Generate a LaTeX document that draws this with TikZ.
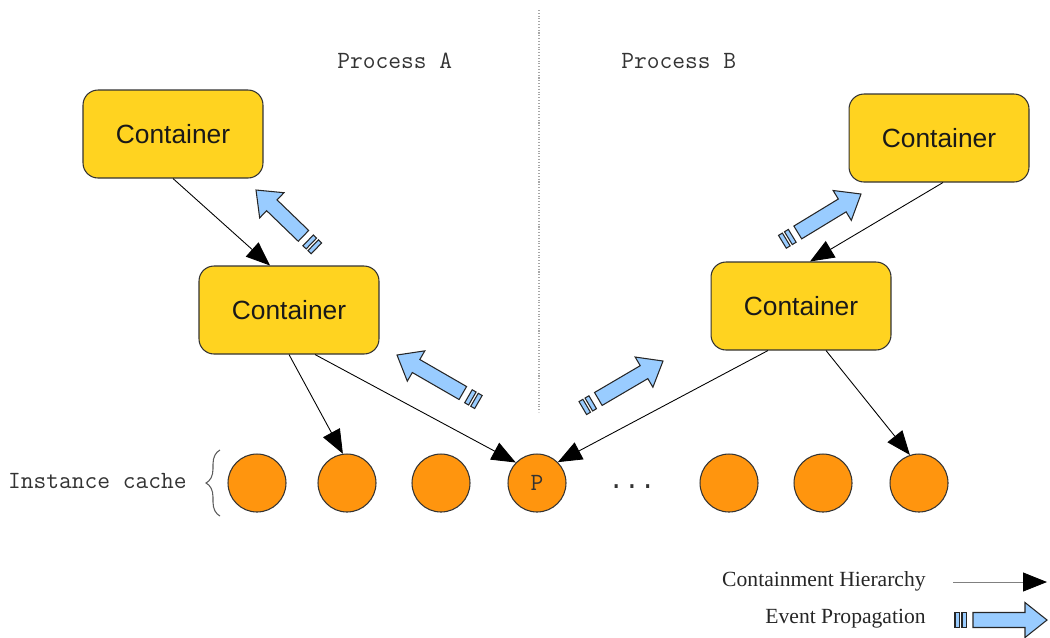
\documentclass[tikz,border=0pt]{standalone}
\usepackage{fontspec}
\setmainfont{Liberation Serif}
\newfontfamily\sansf{Liberation Sans}
\newfontfamily\dotsf{Liberation Mono}
\newcommand\monof{\ttfamily}
\usetikzlibrary{arrows.meta,calc,decorations.pathreplacing}

\definecolor{boxyellow}{HTML}{FFD320}
\definecolor{cacheorange}{HTML}{FF950E}
\definecolor{evblue}{HTML}{99CCFF}
\definecolor{inkgray}{HTML}{333333}

\tikzset{
  container/.style={draw=inkgray, line width=0.6pt, fill=boxyellow, rounded corners=0.3cm,
    minimum width=3.6cm, minimum height=1.76cm, inner sep=0pt,
    font=\sansf\fontsize{15}{18}\selectfont, text=black!90},
  cached/.style={circle, draw=inkgray, line width=0.6pt, fill=cacheorange,
    minimum size=1.16cm, inner sep=0pt, font=\monof\fontsize{14.1}{16}\selectfont, text=inkgray},
  monolabel/.style={font=\monof\fontsize{14.1}{16}\selectfont, text=inkgray, inner sep=0pt},
  legendlabel/.style={font=\fontsize{12.3}{14}\selectfont, text=black!85, inner sep=0pt},
  contains/.style={draw=black, line width=0.5pt,
    -{Triangle[length=0.48cm, width=0.38cm, color=black]}},
  evfill/.style={draw=black!85, line width=0.6pt, fill=evblue, line join=miter},
  pics/evarrow/.style={code={
    \path[evfill] (-#1,-7.5) rectangle (-#1+4.5,7.5);
    \path[evfill] (-#1+7,-7.5) rectangle (-#1+11.5,7.5);
    \path[evfill] (-#1+18,-7.5) -- (-22,-7.5) -- (-22,-17.5) -- (0,0)
       -- (-22,17.5) -- (-22,7.5) -- (-#1+18,7.5) -- cycle;
  }}
}

\begin{document}
\begin{tikzpicture}[x=0.02cm, y=-0.02cm]
\useasboundingbox (0,0) rectangle (1050,637);

% divider between the two processes
\draw[gray!70, densely dotted, line width=0.6pt] (539,10) -- (539,412);
\node[monolabel, anchor=west] (pa) at (337,61) {Process A};
\node[monolabel, anchor=west] (pb) at (621,61) {Process B};

% containers
\node[container] (b1) at (173,134) {Container};
\node[container] (b2) at (289,310) {Container};
\node[container] (b3) at (939,138) {Container};
\node[container] (b4) at (801,306) {Container};

% instance cache
\node[cached] (c1) at (257,483) {};
\node[cached] (c2) at (347,483) {};
\node[cached] (c3) at (441,483) {};
\node[cached] (c4) at (537,483) {P};
\node[cached] (c5) at (729,483) {};
\node[cached] (c6) at (823,483) {};
\node[cached] (c7) at (919,483) {};
\node[font=\dotsf\fontsize{15}{18}\selectfont, text=inkgray, inner sep=0pt] (dots) at (632,487) {...};

\node[monolabel, anchor=east] (ic) at (187,481) {Instance cache};
\draw[inkgray!80, line width=0.6pt, decorate, decoration={brace, amplitude=0.28cm}]
  (220,516) -- (220,450);

% containment hierarchy
\draw[contains] (b1.south) -- ($(b2.north)+(-19,0)$);
\draw[contains] (b2.south) -- (c2.98);
\draw[contains] ($(b2.south)+(26,0)$) -- (c4.136);
\draw[contains] ($(b3.south)+(4,0)$) -- ($(b4.north)+(9,0)$);
\draw[contains] ($(b4.south)+(-33,0)$) -- (c4.45);
\draw[contains] ($(b4.south)+(25,0)$) -- (c7.108);

% event propagation
\pic[rotate=136] at (256,190) {evarrow=84};
\pic[rotate=150] at (397,355) {evarrow=94};
\pic[rotate=30.4] at (663,361) {evarrow=93};
\pic[rotate=31.3] at (861,194) {evarrow=92};

% legend
\node[legendlabel, anchor=east] (lg1) at (926,581) {Containment Hierarchy};
\node[legendlabel, anchor=east] (lg2) at (926,619) {Event Propagation};
\coordinate (lgs) at (953,582);
\coordinate (lge) at (1047,582);
\draw[contains, draw=gray] (lgs) -- (lge);
\pic at (1047,620) {evarrow=92};
\end{tikzpicture}
\end{document}
